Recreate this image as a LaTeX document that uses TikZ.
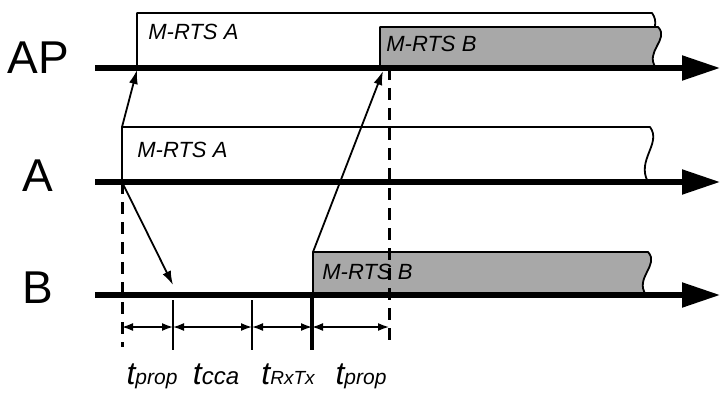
\documentclass[tikz,border=0pt]{standalone}
\usepackage{fontspec}
\setmainfont{Liberation Sans}
\usetikzlibrary{arrows.meta}

\begin{document}
\begin{tikzpicture}[x=0.5pt, y=-0.5pt, every node/.style={inner sep=0pt}]
  \useasboundingbox (0,0) rectangle (721,395);
  \colorlet{frgrey}{black!34}
  \tikzstyle{axis}=[-{Triangle[length=19pt, width=12pt]}, line width=2.6pt]
  \tikzstyle{frame}=[draw, line width=0.9pt, line join=round]
  \tikzstyle{signal}=[-{Latex[length=7pt, width=4.5pt]}, line width=0.9pt]
  \tikzstyle{span}=[{Latex[length=5.5pt, width=4pt]}-{Latex[length=5.5pt, width=4pt]}, line width=0.8pt]
  \tikzstyle{guide}=[dash pattern=on 6pt off 4pt, line width=1.5pt]
  \tikzstyle{cut}=[line width=1.1pt]
  \tikzstyle{frametext}=[anchor=base west, font=\fontsize{11}{11}\selectfont\itshape]
  \tikzstyle{station}=[font=\fontsize{23}{23}\selectfont]
  \tikzstyle{tlabel}=[anchor=base, font=\itshape]
  % frames (drawn below the time lines)
  \foreach \l/\t/\r/\b/\c in {137/13/652/68/white, 380/27/658/68/frgrey, 122/127/650/182/white, 313/252/648/295/frgrey} {
    \filldraw[frame, fill=\c] (\l,\b) -- (\l,\t) -- (\r,\t)
      .. controls (\r+12,{\t+0.3*(\b-\t)}) and (\r-14,{\t+0.6*(\b-\t)}) .. (\r-2,\b) -- cycle;
  }
  \node[frametext] (rtsApA) at (148,40) {M-RTS A};
  \node[frametext] (rtsApB) at (386,52) {M-RTS B};
  \node[frametext] (rtsA)   at (137,158) {M-RTS A};
  \node[frametext] (rtsB)   at (322,279) {M-RTS B};
  % time lines
  \foreach \n/\y/\ly/\lbl in {ap/68/58/AP, a/182/176/A, b/295/288/B} {
    \node[station] (lbl\n) at (38,\ly) {\lbl};
    \coordinate (\n0) at (95,\y);
    \coordinate (\n1) at (720,\y);
    \draw[axis] (\n0) -- (\n1);
  }
  % signals
  \coordinate (sendA) at (122,127);
  \coordinate (hitAP) at (137,70);
  \coordinate (startA) at (122,182);
  \coordinate (hitB) at (173,285);
  \coordinate (sendB) at (313,252);
  \coordinate (hitAPb) at (383,71);
  \draw[signal] (sendA) -- (hitAP);
  \draw[signal] (startA) -- (hitB);
  \draw[signal] (sendB) -- (hitAPb);
  % guides and intervals
  \coordinate (endA) at (122,347);
  \coordinate (topB) at (389,68);
  \coordinate (endB) at (389,347);
  \draw[guide] (startA) -- (endA);
  \draw[guide] (topB) -- (endB);
  \foreach \x in {173, 252} {
    \draw[cut] (\x,300) -- (\x,350);
  }
  \draw[cut, line width=1.6pt] (312,298) -- (312,350);
  \foreach \a/\b in {122/173, 173/252, 252/312, 312/389} {
    \draw[span] (\a,327) -- (\b,327);
  }
  \node[tlabel] (tprop1) at (152,384) {\fontsize{16}{16}\selectfont t\fontsize{10.5}{10.5}\selectfont prop};
  \node[tlabel] (tcca)   at (216,384) {\fontsize{16}{16}\selectfont t\fontsize{12}{12}\selectfont cca};
  \node[tlabel] (trxtx)  at (288,384) {\fontsize{16}{16}\selectfont t\fontsize{9.5}{9.5}\selectfont RxTx};
  \node[tlabel] (tprop2) at (361,384) {\fontsize{16}{16}\selectfont t\fontsize{10.5}{10.5}\selectfont prop};
\end{tikzpicture}
\end{document}
